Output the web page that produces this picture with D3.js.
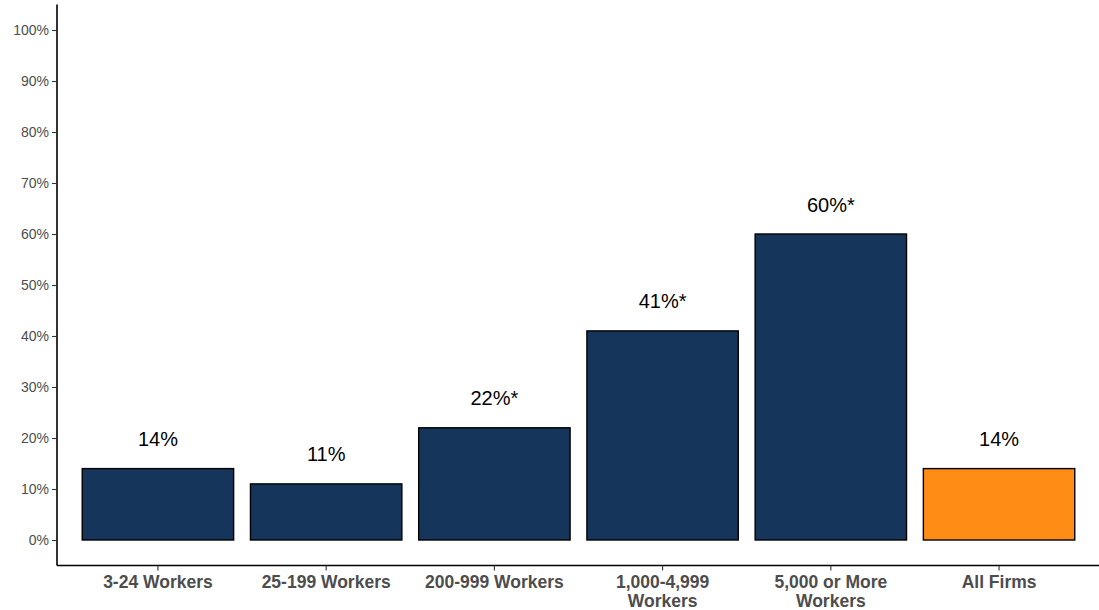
<!DOCTYPE html>
<html>
<head>
<meta charset="utf-8">
<script src="https://cdn.jsdelivr.net/npm/d3@7"></script>
<style>
  html, body { margin: 0; padding: 0; background: #fff; }
  svg { display: block; }
</style>
</head>
<body>
<svg id="chart" width="1099" height="610"></svg>
<script>
// Share of firms by size
const categories = ["3-24 Workers", "25-199 Workers", "200-999 Workers", "1,000-4,999 Workers", "5,000 or More Workers", "All Firms"];
const axisLabels = [["3-24 Workers"], ["25-199 Workers"], ["200-999 Workers"], ["1,000-4,999", "Workers"], ["5,000 or More", "Workers"], ["All Firms"]];
const values = [0.14, 0.11, 0.22, 0.41, 0.60, 0.14];
const valueLabels = ["14%", "11%", "22%*", "41%*", "60%*", "14%"];
const yTicks = [0, 0.1, 0.2, 0.3, 0.4, 0.5, 0.6, 0.7, 0.8, 0.9, 1.0];

const svg = d3.select("#chart");
const plotLeft = 57, plotRight = 1100, plotTop = 4.5, plotBottom = 565.5;

// Band scale with ggplot-like outer expansion of 0.6 band steps
const n = categories.length;
const step = (plotRight - plotLeft) / (n + 0.2);
const x = d3.scaleBand()
  .domain(categories)
  .range([plotLeft + 0.6 * step - step / 2, plotRight - 0.6 * step + step / 2])
  .paddingInner(0.1)
  .paddingOuter(0.05);

const y = d3.scaleLinear().domain([-0.05, 1.05]).range([plotBottom, plotTop]);

const barColor = (d, i) => categories[i] === "All Firms" ? "#FF8C14" : "#15355A";

svg.append("g").selectAll("rect")
  .data(values)
  .join("rect")
  .attr("x", (d, i) => x(categories[i]))
  .attr("width", x.bandwidth())
  .attr("y", d => y(d))
  .attr("height", d => y(0) - y(d))
  .attr("fill", barColor)
  .attr("stroke", "#000")
  .attr("stroke-width", 1.4);

svg.append("g").selectAll("text")
  .data(values)
  .join("text")
  .attr("x", (d, i) => x(categories[i]) + x.bandwidth() / 2)
  .attr("y", d => y(d) - 22.5)
  .attr("text-anchor", "middle")
  .attr("font-family", "Liberation Sans, Arial, sans-serif")
  .attr("font-size", 20)
  .attr("fill", "#000")
  .text((d, i) => valueLabels[i]);

// Y axis
const yAxis = svg.append("g")
  .attr("transform", `translate(${plotLeft},0)`)
  .call(d3.axisLeft(y).tickValues(yTicks).tickFormat(d3.format(".0%")).tickSize(5).tickPadding(3));
yAxis.select(".domain").attr("d", `M0,${plotTop}V${plotBottom}`).attr("stroke", "#000").attr("stroke-width", 1.6);
yAxis.selectAll(".tick line").attr("stroke", "#333").attr("stroke-width", 1.1);
yAxis.selectAll(".tick text")
  .attr("font-family", "Liberation Sans, Arial, sans-serif")
  .attr("font-size", 14)
  .attr("fill", "#4D4D4D");

// X axis
const xAxis = svg.append("g")
  .attr("transform", `translate(0,${plotBottom})`)
  .call(d3.axisBottom(x).tickSize(5).tickFormat(""));
xAxis.select(".domain").attr("d", `M${plotLeft},0H1099`).attr("stroke", "#000").attr("stroke-width", 1.6);
xAxis.selectAll(".tick line").attr("stroke", "#333").attr("stroke-width", 1.1);
xAxis.selectAll(".tick text").remove();
xAxis.selectAll(".tick").each(function(d, i) {
  const t = d3.select(this).append("text")
    .attr("text-anchor", "middle")
    .attr("font-family", "Liberation Sans, Arial, sans-serif")
    .attr("font-size", 17.5)
    .attr("font-weight", "bold")
    .attr("fill", "#4D4D4D");
  axisLabels[i].forEach((line, k) => {
    t.append("tspan").attr("x", 0).attr("y", 22.5 + k * 19).text(line);
  });
});
</script>
</body>
</html>
